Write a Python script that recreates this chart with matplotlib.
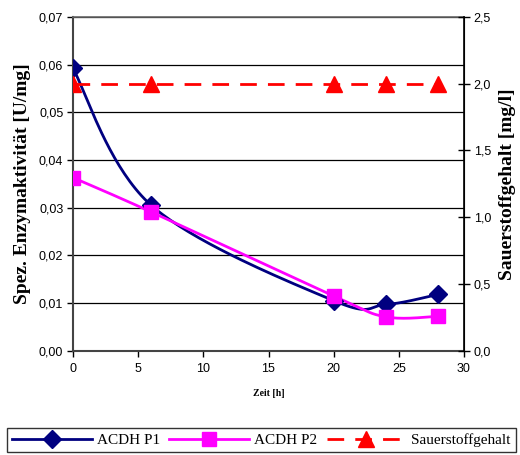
import numpy as np
import matplotlib
matplotlib.use("Agg")
import matplotlib.pyplot as plt
from matplotlib.lines import Line2D
from matplotlib.ticker import FuncFormatter

# ---- data ----
zeit = [0, 6, 20, 24, 28]
acdh_p1 = [0.0592, 0.0305, 0.0105, 0.0097, 0.0118]
acdh_p2 = [0.0363, 0.0291, 0.0115, 0.0071, 0.0072]
sauerstoff = [2.0, 2.0, 2.0, 2.0, 2.0]

left_ticks = [0.00, 0.01, 0.02, 0.03, 0.04, 0.05, 0.06, 0.07]
right_ticks = [0.0, 0.5, 1.0, 1.5, 2.0, 2.5]
x_ticks = [0, 5, 10, 15, 20, 25, 30]


def smooth(xs, ys, n=40):
    """Excel-style smoothed line (Bezier with Catmull-Rom control points)."""
    xs = np.asarray(xs, float)
    ys = np.asarray(ys, float)
    P = np.column_stack([xs, ys])
    m = len(P)
    out = []
    for i in range(m - 1):
        p0 = P[i - 1] if i > 0 else P[i]
        p1 = P[i]
        p2 = P[i + 1]
        p3 = P[i + 2] if i + 2 < m else P[i + 1]
        c1 = p1 + (p2 - p0) / 6.0
        c2 = p2 - (p3 - p1) / 6.0
        t = np.linspace(0, 1, n)[:, None]
        seg = ((1 - t) ** 3) * p1 + 3 * ((1 - t) ** 2) * t * c1 + 3 * (1 - t) * t ** 2 * c2 + t ** 3 * p2
        out.append(seg if i == 0 else seg[1:])
    seg = np.vstack(out)
    return seg[:, 0], seg[:, 1]


fig = plt.figure(figsize=(5.2, 4.55), dpi=100)
ax = fig.add_axes([73 / 520, 1 - 350.7 / 455, (464 - 73) / 520, (350.7 - 17) / 455])
ax2 = ax.twinx()

navy = "#000080"
mag = "#FF00FF"
red = "#FF0000"
dash = (0, (6, 4))

ax.set_ylim(0, 0.07)
ax.set_xlim(0, 30)
ax.set_yticks(left_ticks)
ax.set_xticks(x_ticks)
ax.yaxis.grid(True, color="black", linewidth=0.9)
ax.set_axisbelow(True)

sx, sy = smooth(zeit, acdh_p1)
ax.plot(sx, sy, color=navy, lw=2, zorder=3)
ax.plot(zeit, acdh_p1, ls="none", marker="D", ms=9.5, color=navy, zorder=4)

sx, sy = smooth(zeit, acdh_p2)
ax.plot(sx, sy, color=mag, lw=2, zorder=3)
ax.plot(zeit, acdh_p2, ls="none", marker="s", ms=10.5, color=mag, zorder=4)

ax2.set_ylim(0, 2.5)
ax2.set_yticks(right_ticks)
ax2.plot(zeit, sauerstoff, color=red, lw=2, ls=dash, marker="^", ms=11, zorder=4)

ax.yaxis.set_major_formatter(FuncFormatter(lambda v, p: f"{v:.2f}".replace(".", ",")))
ax2.yaxis.set_major_formatter(FuncFormatter(lambda v, p: f"{v:.1f}".replace(".", ",")))
ax.xaxis.set_major_formatter(FuncFormatter(lambda v, p: f"{int(v)}"))
for lab in ax.get_xticklabels() + ax.get_yticklabels() + ax2.get_yticklabels():
    lab.set_fontfamily("Liberation Sans")
    lab.set_fontsize(9)

ax.tick_params(axis="y", direction="out", length=4, width=1, pad=3)
ax.tick_params(axis="x", direction="out", length=4, width=1, pad=5)
ax2.tick_params(axis="y", direction="inout", length=8, width=1, pad=3)

for s in ["left", "bottom"]:
    ax.spines[s].set_color("#444444")
    ax.spines[s].set_linewidth(1.5)
ax.spines["top"].set_color("#666666")
ax.spines["top"].set_linewidth(1.2)
ax2.spines["right"].set_color("black")
ax2.spines["right"].set_linewidth(1.2)
for s in ["left", "top", "bottom"]:
    ax2.spines[s].set_visible(False)

ax.set_ylabel("Spez. Enzymaktivität [U/mg]", fontfamily="Liberation Serif",
              fontweight="bold", fontsize=14, labelpad=6)
ax2.set_ylabel("Sauerstoffgehalt [mg/l]", fontfamily="Liberation Serif",
               fontweight="bold", fontsize=14, rotation=90, labelpad=6)
ax.set_xlabel("Zeit [h]", fontfamily="Liberation Serif", fontweight="bold",
              fontsize=7, labelpad=10)

handles = [
    Line2D([], [], color=navy, lw=2, marker="D", ms=9.5),
    Line2D([], [], color=mag, lw=2, marker="s", ms=10.5),
    Line2D([], [], color=red, lw=2, ls=dash, marker="^", ms=11),
]
leg = fig.legend(handles, ["ACDH P1", "ACDH P2", "Sauerstoffgehalt"],
                 loc="upper left", bbox_to_anchor=(7 / 520, 1 - 428 / 455),
                 ncol=3, frameon=True, fancybox=False, edgecolor="black",
                 prop=dict(family="Liberation Serif", size=11),
                 handlelength=5.2, handletextpad=0.35, columnspacing=0.6,
                 borderpad=0.35, borderaxespad=0)
leg.get_frame().set_linewidth(1.0)

fig.savefig("out.png", dpi=100)
